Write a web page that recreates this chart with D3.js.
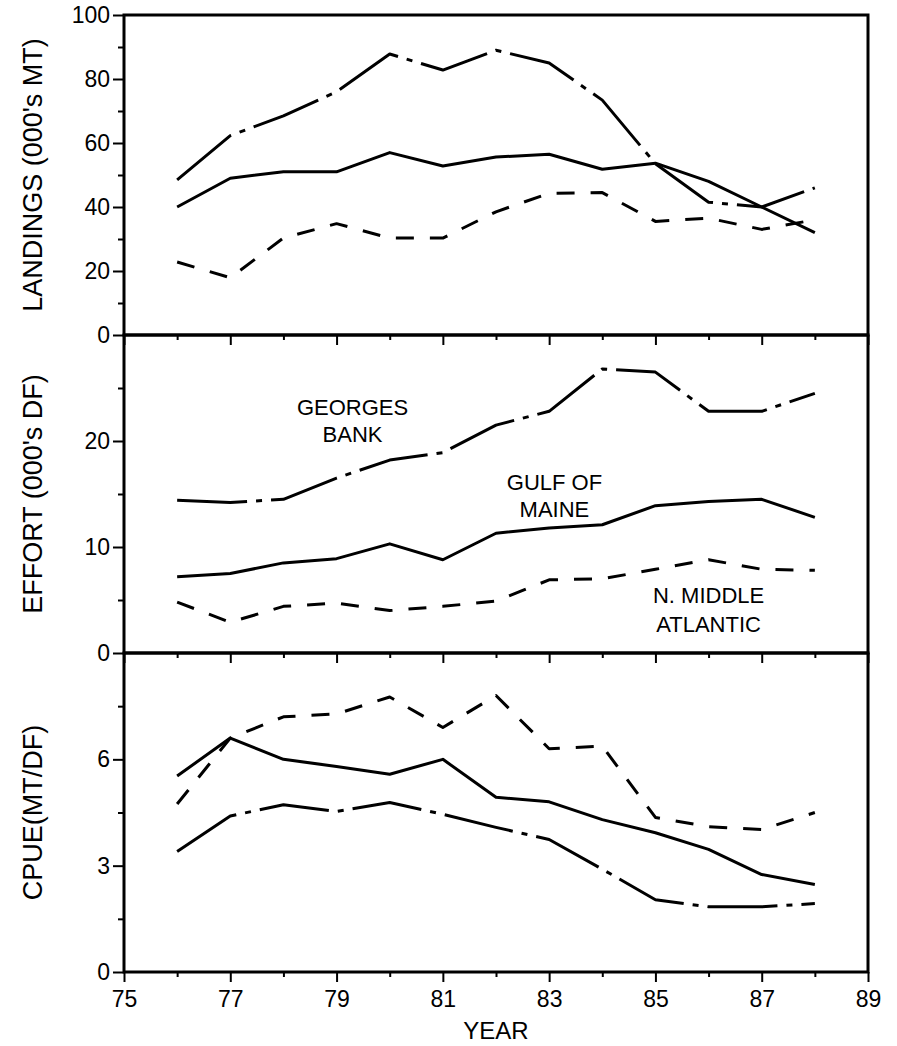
<!DOCTYPE html>
<html lang="en">
<head>
<meta charset="utf-8">
<title>Landings, effort and CPUE by region</title>
<style>
  body { margin: 0; background: #fff; }
  svg { display: block; }
  text { font-family: 'Liberation Sans', Arial, sans-serif; fill: #000; }
  .axis path { display: none; }
  .axis line { stroke: #000; stroke-width: 2; }
  .axis text { font-size: 23px; }
  .frame { fill: none; stroke: #000; stroke-width: 3; }
  .series { fill: none; stroke: #000; stroke-width: 3; stroke-linejoin: round; }
  .title { font-size: 27px; }
  .note { font-size: 22px; }
</style>
</head>
<body>
<svg width="897" height="1046"></svg>
<script src="https://d3js.org/d3.v7.min.js"></script>
<script>
// years of the series
var years = [76, 77, 78, 79, 80, 81, 82, 83, 84, 85, 86, 87, 88];

// landings (000's MT)
var landGulf    = [40, 49, 51, 51, 57, 52.8, 55.6, 56.5, 51.8, 53.7, 48, 40, 32];
var landGeorges = [48.5, 62.3, 68.5, 76, 87.8, 82.8, 89, 85, 73.4, 53.5, 41.5, 40, 46];
var landMidAtl  = [22.8, 17.9, 30.3, 34.8, 30.3, 30.3, 38.5, 44.3, 44.5, 35.5, 36.5, 33, 36];

// effort (000's DF)
var effGulf    = [7.2, 7.5, 8.5, 8.9, 10.3, 8.8, 11.3, 11.8, 12.1, 13.9, 14.3, 14.5, 12.8];
var effGeorges = [14.4, 14.2, 14.5, 16.5, 18.2, 18.9, 21.5, 22.8, 26.8, 26.5, 22.8, 22.8, 24.5];
var effMidAtl  = [4.8, 2.9, 4.4, 4.7, 4.0, 4.4, 4.9, 6.9, 7.0, 7.9, 8.8, 7.9, 7.8];

// CPUE (MT/DF)
var cpueGulf    = [5.53, 6.6, 6.0, 5.8, 5.58, 6.0, 4.93, 4.8, 4.3, 3.93, 3.46, 2.75, 2.47];
var cpueGeorges = [3.4, 4.4, 4.72, 4.53, 4.78, 4.45, 4.08, 3.74, 2.9, 2.04, 1.84, 1.84, 1.93];
var cpueMidAtl  = [4.74, 6.6, 7.2, 7.28, 7.76, 6.9, 7.8, 6.3, 6.37, 4.36, 4.1, 4.02, 4.5];

// axis ticks
var xMajor = [75, 77, 79, 81, 83, 85, 87, 89];
var xMinor = [76, 78, 80, 82, 84, 86, 88];

var panels = [
  { title: "LANDINGS (000's MT)", max: 100, major: [0, 20, 40, 60, 80, 100], minor: [10, 30, 50, 70, 90],
    gulf: landGulf, georges: landGeorges, midAtl: landMidAtl },
  { title: "EFFORT (000's DF)", max: 30, major: [0, 10, 20], minor: [5, 15, 25],
    gulf: effGulf, georges: effGeorges, midAtl: effMidAtl },
  { title: "CPUE(MT/DF)", max: 9, major: [0, 3, 6], minor: [1.5, 4.5, 7.5],
    gulf: cpueGulf, georges: cpueGeorges, midAtl: cpueMidAtl }
];

// region labels in the effort panel: [year, value, text]
var effortNotes = [
  [79.3, 22.45, "GEORGES"], [79.3, 19.9, "BANK"],
  [83.1, 15.4, "GULF OF"], [83.1, 12.85, "MAINE"],
  [86.0, 4.7, "N. MIDDLE"], [86.0, 2.0, "ATLANTIC"]
];

var left = 124, right = 868;
var edges = [15, 335, 653, 972];
var width = right - left;

var svg = d3.select('svg');

var x = d3.scaleLinear().domain([75, 89]).range([0, width]);

var styles = {
  gulf: null,
  georges: '70 9 6 9',
  midAtl: '18 16'
};

panels.forEach(function (p, i) {
  var top = edges[i];
  var h = edges[i + 1] - edges[i];
  var y = d3.scaleLinear().domain([0, p.max]).range([h, 0]);

  var g = svg.append('g').attr('transform', `translate(${left}, ${top})`);

  // left axis, major + minor
  g.append('g').attr('class', 'axis')
    .call(d3.axisLeft(y).tickValues(p.major).tickSize(11).tickPadding(3).tickFormat(d3.format('d')));
  g.append('g').attr('class', 'axis')
    .call(d3.axisLeft(y).tickValues(p.minor).tickSize(6).tickFormat(''));

  // bottom axis, labels only on the last panel
  var last = i === panels.length - 1;
  g.append('g').attr('class', 'axis')
    .attr('transform', `translate(0, ${h})`)
    .call(d3.axisBottom(x).tickValues(xMajor).tickSize(10).tickPadding(9)
      .tickFormat(last ? d3.format('d') : ''));
  g.append('g').attr('class', 'axis')
    .attr('transform', `translate(0, ${h})`)
    .call(d3.axisBottom(x).tickValues(xMinor).tickSize(5).tickFormat(''));

  g.append('rect').attr('class', 'frame')
    .attr('x', 0).attr('y', 0).attr('width', width).attr('height', h);

  var line = d3.line()
    .x(function (d, j) { return x(years[j]); })
    .y(function (d) { return y(d); });

  ['gulf', 'georges', 'midAtl'].forEach(function (k) {
    g.append('path')
      .attr('class', 'series')
      .attr('d', line(p[k]))
      .style('stroke-dasharray', styles[k]);
  });

  g.append('text')
    .attr('class', 'title')
    .attr('transform', `translate(-82, ${h / 2}) rotate(-90)`)
    .attr('text-anchor', 'middle')
    .text(p.title);

  if (i === 1) {
    g.selectAll('.note')
      .data(effortNotes)
      .enter()
      .append('text')
      .attr('class', 'note')
      .attr('x', function (d) { return x(d[0]); })
      .attr('y', function (d) { return y(d[1]); })
      .attr('text-anchor', 'middle')
      .text(function (d) { return d[2]; });
  }
});

svg.append('text')
  .attr('class', 'title')
  .style('font-size', '24px')
  .attr('x', left + width / 2)
  .attr('y', 1039)
  .attr('text-anchor', 'middle')
  .text('YEAR');
</script>
</body>
</html>
